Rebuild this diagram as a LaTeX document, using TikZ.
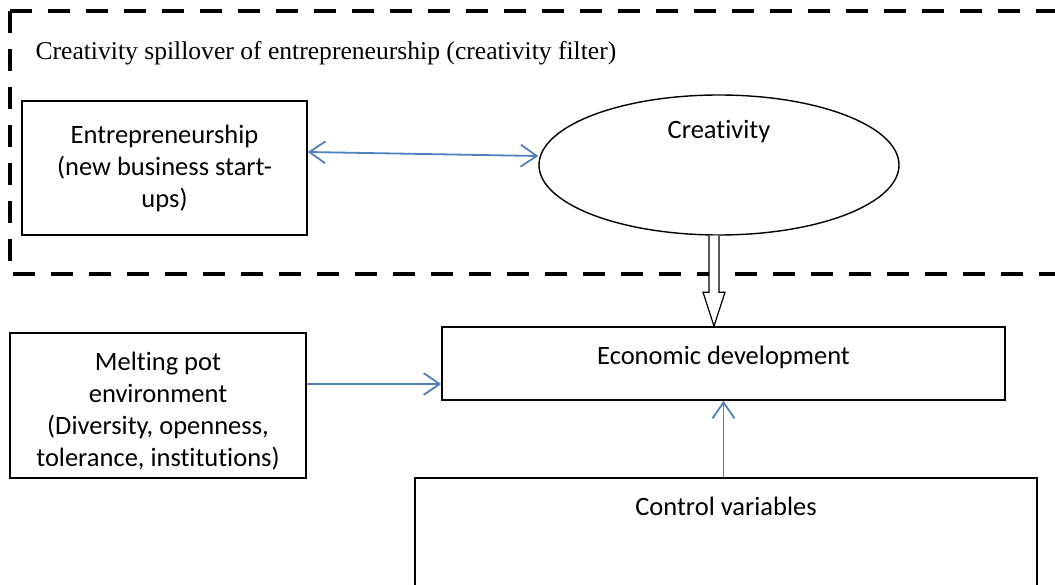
\documentclass[tikz,border=0pt]{standalone}
\usepackage{fontspec}
\setmainfont{Liberation Serif}
\newfontfamily\boxfont[Ligatures=NoCommon]{Carlito}
\usetikzlibrary{arrows.meta,shapes.geometric}
\definecolor{arrowblue}{RGB}{79,129,189}
\begin{document}
\begin{tikzpicture}[x=1pt, y=-1pt,
txt/.style={font=\boxfont\fontsize{26.5}{32}\selectfont},
box/.style={rectangle, draw=black, line width=1.6pt, align=center, inner sep=0pt, txt},
oval/.style={ellipse, draw=black, line width=1.4pt, inner sep=0pt},
barb/.tip={Straight Barb[length=16pt, width=22pt, line width=1.8pt]},
link/.style={draw=arrowblue, line width=1.8pt, -barb},
frame/.style={line width=3.2pt, dash pattern=on 22pt off 16pt},
]
\useasboundingbox (0,0) rectangle (1055,585);
% dashed frame of the creativity filter
\draw[frame] (10,11) -- (1080,11);
\draw[frame] (10,11) -- (10,274) -- (1080,274);
\node (title) [anchor=west, font=\fontsize{25.6}{30}\selectfont] at (32,53)
	{Creativity spillover of entrepreneurship (creativity filter)};
\node (entre) [box, minimum width=285pt, minimum height=134pt] at (164.5,168)
	{Entrepreneurship\\(new business start-\\ups)};
\node (creat) [oval, minimum width=360pt, minimum height=140pt] at (719,165)
	[label={[txt, yshift=33pt]center:Creativity}] {};
\node (econ) [box, minimum width=563pt, minimum height=73pt] at (723.5,363.5)
	[label={[txt, yshift=6pt]center:Economic development}] {};
\node (melt) [box, minimum width=296pt, minimum height=145pt] at (158,405.5)
	[label={[txt, align=center, yshift=-6pt]center:Melting pot\\environment\\(Diversity, openness,\\tolerance, institutions)}] {};
\node (ctrl) [box, minimum width=622pt, minimum height=150pt] at (726,553)
	[label={[txt, anchor=center, yshift=-29pt]north:Control variables}] {};
% connectors
\draw[link, barb-barb] ([yshift=16pt]entre.east) -- ([yshift=9pt]creat.west);
\draw[link] ([yshift=21.5pt]melt.east) -- ([yshift=-20.5pt]econ.west);
\draw[link] (econ.south |- ctrl.north) -- (econ.south);
% hollow arrow from creativity down to economic development
\coordinate (tip) at ([xshift=-9.5pt]econ.north);
\coordinate (shaft) at (tip |- creat.south);
\draw[line width=1.2pt, fill=white] ([xshift=-5pt]shaft) -- ([xshift=-5pt, yshift=34pt]tip)
	-- ([xshift=-11pt, yshift=34pt]tip) -- (tip) -- ([xshift=11pt, yshift=34pt]tip)
	-- ([xshift=5pt, yshift=34pt]tip) -- ([xshift=5pt]shaft);
\end{tikzpicture}
\end{document}
